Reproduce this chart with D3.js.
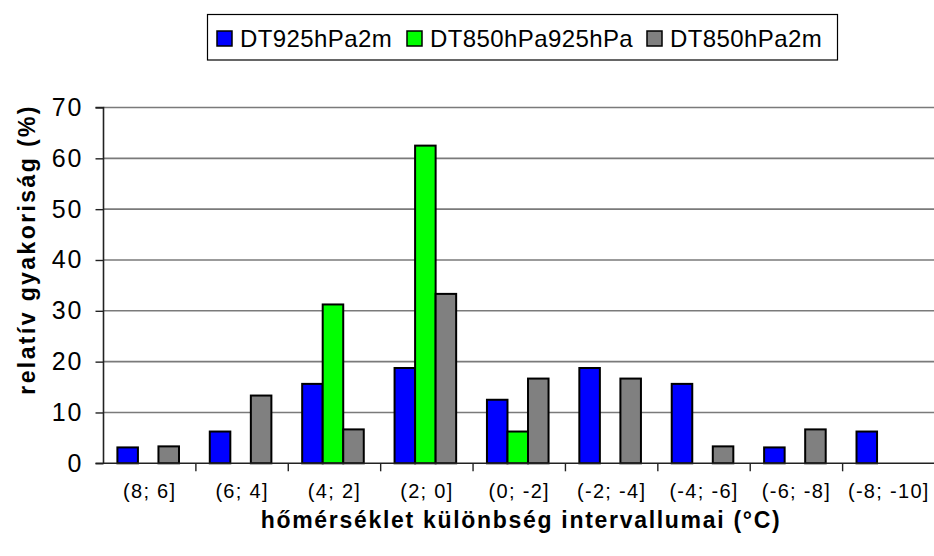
<!DOCTYPE html>
<html><head><meta charset="utf-8">
<script src="https://cdn.jsdelivr.net/npm/d3@7"></script>
<style>body{margin:0;background:#fff}svg{display:block}text{font-family:"Liberation Sans",Arial,sans-serif}</style>
</head><body>
<svg id="c" width="934" height="556"></svg>
<script>
const categories = ["(8; 6]","(6; 4]","(4; 2]","(2; 0]","(0; -2]","(-2; -4]","(-4; -6]","(-6; -8]","(-8; -10]"];
const seriesNames = ["DT925hPa2m","DT850hPa925hPa","DT850hPa2m"];
const seriesColors = ["#0000FF","#00FF00","#808080"];
const dt925 = [3.125,6.25,15.625,18.75,12.5,18.75,15.625,3.125,6.25];
const dt850_925 = [0,0,31.25,62.5,6.25,0,0,0,0];
const dt850 = [3.33,13.33,6.67,33.33,16.67,16.67,3.33,6.67,0];
const yTicks = [0,10,20,30,40,50,60,70];
const xTitle = "hőmérséklet különbség intervallumai (°C)";
const yTitle = "relatív gyakoriság (%)";

const values = [dt925, dt850_925, dt850];
const svg = d3.select("#c");
const L = 103.5, R = 935, T = 107.5, B = 463.3;
const y = d3.scaleLinear().domain([0,70]).range([B,T]);
const x0 = d3.scaleBand().domain(categories).range([L,R]).padding(0);
const bw = x0.bandwidth();
const x1 = d3.scaleBand().domain(seriesNames).range([bw/6 - 1.5, bw*5/6 - 1.5]).padding(0);

// gridlines
svg.append("g").selectAll("line").data(yTicks.filter(d=>d>0)).join("line")
  .attr("x1",L).attr("x2",R).attr("y1",d=>y(d)).attr("y2",d=>y(d))
  .attr("stroke","#7a7a7a").attr("stroke-width",1.6);

// bars
const rows = [];
categories.forEach((c,i)=>seriesNames.forEach((s,j)=>{ if(values[j][i]>0) rows.push({c,s,v:values[j][i],col:seriesColors[j]}); }));
svg.append("g").selectAll("rect").data(rows).join("rect")
  .attr("x",d=>x0(d.c)+x1(d.s)).attr("width",x1.bandwidth())
  .attr("y",d=>y(d.v)).attr("height",d=>B-y(d.v))
  .attr("fill",d=>d.col).attr("stroke","#000").attr("stroke-width",2);

// y axis
const ya = d3.axisLeft(y).tickValues(yTicks).tickSize(8).tickPadding(12);
const yg = svg.append("g").attr("transform",`translate(${L},0)`).call(ya);
yg.select(".domain").attr("stroke","#222").attr("stroke-width",1.6).attr("d",`M-8,${T}H0V${B}H-8`);
yg.selectAll(".tick line").attr("stroke","#222").attr("stroke-width",1.4);
yg.selectAll(".tick text").attr("font-size",25).attr("letter-spacing",2).attr("fill","#000")
  .attr("font-family","Liberation Sans, Arial, sans-serif");

// x axis
const xa = d3.axisBottom(x0).tickSize(0).tickPadding(30);
const xg = svg.append("g").attr("transform",`translate(0,${B})`).call(xa);
xg.select(".domain").attr("stroke","#222").attr("stroke-width",1.6).attr("d",`M${L},0H${R}`);
xg.selectAll(".tick text").attr("font-size",20).attr("letter-spacing",1.3).attr("y",35).attr("dy",0)
  .attr("fill","#000").attr("font-family","Liberation Sans, Arial, sans-serif");
xg.selectAll("line.sep").data(categories.slice(1)).join("line").attr("class","sep")
  .attr("x1",d=>x0(d)).attr("x2",d=>x0(d)).attr("y1",0).attr("y2",8)
  .attr("stroke","#222").attr("stroke-width",1.4);

// titles
svg.append("text").attr("x",521).attr("y",528).attr("text-anchor","middle")
  .attr("font-size",23).attr("letter-spacing",1.7).attr("font-weight","bold").text(xTitle);
svg.append("text").attr("transform",`translate(35,${(T+B)/2 - 36}) rotate(-90)`).attr("text-anchor","middle")
  .attr("font-size",23).attr("letter-spacing",2.4).attr("font-weight","bold").text(yTitle);

// legend
const lg = svg.append("g");
lg.append("rect").attr("x",207.5).attr("y",14.5).attr("width",630).attr("height",45.5)
  .attr("fill","#fff").attr("stroke","#000").attr("stroke-width",1.2);
const legX = [217, 407, 647];
seriesNames.forEach((s,i)=>{
  lg.append("rect").attr("x",legX[i]).attr("y",31).attr("width",15).attr("height",15)
    .attr("fill",seriesColors[i]).attr("stroke","#000").attr("stroke-width",1.5);
  lg.append("text").attr("x",legX[i]+23).attr("y",47).attr("font-size",24).attr("letter-spacing",0.4).text(s);
});
</script>
</body></html>
